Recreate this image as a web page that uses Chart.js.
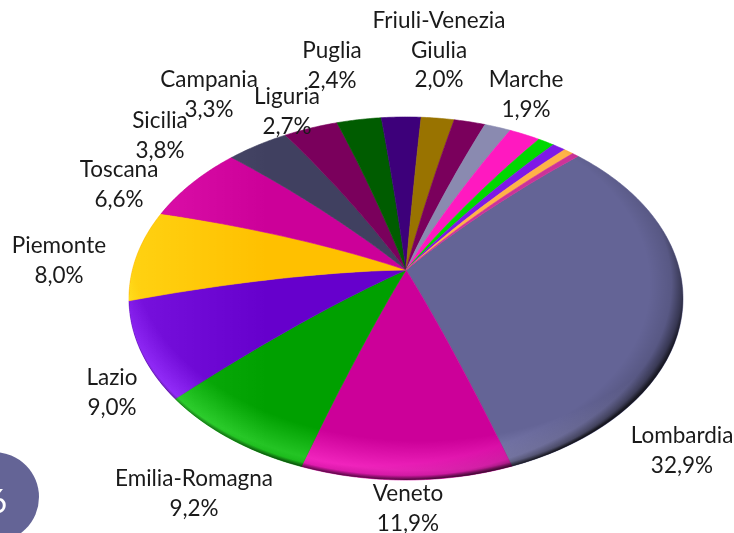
<!DOCTYPE html>
<html lang="it">
<head>
<meta charset="utf-8">
<title>Ripartizione per regione</title>
<style>html,body{margin:0;padding:0;background:#fff;overflow:hidden}canvas{display:block}</style>
<script src="https://cdn.jsdelivr.net/npm/chart.js@4"></script>
</head>
<body>
<canvas id="c" width="734" height="533"></canvas>
<script>
// ---- data ----
const regions = ["Lombardia","Veneto","Emilia-Romagna","Lazio","Piemonte","Toscana","Sicilia","Campania","Liguria","Puglia","Friuli-Venezia Giulia","Marche","","","","","",""];
const shares  = [32.9,11.9,9.2,9.0,8.0,6.6,3.8,3.3,2.7,2.4,2.0,1.9,1.6,1.9,1.0,0.8,0.6,0.4];
const labelled = 12;
const sliceColors = ["#646496","#cc0099","#00a000","#6600cc","#ffc000","#cc0099","#404060","#7a005c","#005c00","#3d007a","#997300","#7a005c","#8a8ab0","#ff19c0","#00d800","#7f19e6","#ffb347","#cc3399"];
const pageNumber = "6";

// ---- layout of texts (wrapped lines, centre x, first-line centre y) ----
const labelLines = [["Lombardia"],["Veneto"],["Emilia-Romagna"],["Lazio"],["Piemonte"],["Toscana"],["Sicilia"],["Campania"],["Liguria"],["Puglia"],["Friuli-Venezia","Giulia"],["Marche"]];
const labelAt = [[682,436],[408,494],[194,479],[112,378],[59,246],[119,170],[160,121],[209,80],[287,97],[332,51],[439,21],[526,80]];
const lineStep = 29.5;
const labelFont = '22.5px Lato, "Open Sans", sans-serif';

// ---- domed-disc projection applied to the arcs the library computed ----
const tilt = {sx:277/200, sy:181.5/200, lift:28.5/200, profile:1.7, warp:-2.5*Math.PI/180};
function project(el, ang, r){
  const R = el.outerRadius;
  const th = ang + Math.PI/2;
  const a = th + tilt.warp*Math.sin(th) - Math.PI/2;
  return [
    el.x + R*tilt.sx*r*Math.cos(a),
    el.y + R*tilt.sy*r*Math.sin(a) + R*tilt.lift*Math.pow(r,tilt.profile)
  ];
}
function tracePie(ctx, el, a0, a1){
  ctx.beginPath();
  ctx.moveTo(el.x, el.y);
  for(let i=1;i<=24;i++){ const p = project(el,a0,i/24); ctx.lineTo(p[0],p[1]); }
  const n = Math.max(2, Math.ceil((a1-a0)/0.01));
  for(let i=1;i<=n;i++){ const p = project(el,a0+(a1-a0)*i/n,1); ctx.lineTo(p[0],p[1]); }
  for(let i=23;i>=1;i--){ const p = project(el,a1,i/24); ctx.lineTo(p[0],p[1]); }
  ctx.closePath();
}
Chart.ArcElement.prototype.draw = function(ctx){
  const o = this.options;
  ctx.save();
  tracePie(ctx, this, this.startAngle, this.endAngle);
  ctx.fillStyle = o.backgroundColor;
  ctx.strokeStyle = o.backgroundColor;
  ctx.lineWidth = 0.6;
  ctx.fill();
  ctx.stroke();
  ctx.restore();
};

const dome = {
  id:'dome',
  afterDatasetsDraw(chart){
    const ctx = chart.ctx, el = chart.getDatasetMeta(0).data[0];
    if(!el) return;
    const R = el.outerRadius, rx = R*tilt.sx, ry = R*tilt.sy, cx = el.x, cy = el.y + R*tilt.lift;
    ctx.save();
    ctx.beginPath();
    ctx.ellipse(cx,cy,rx,ry,0,0,Math.PI*2);
    ctx.clip();
    ctx.translate(cx,cy);
    ctx.scale(rx,ry);
    // additive light: keeps the hues saturated
    ctx.globalCompositeOperation = 'lighter';
    let g = ctx.createLinearGradient(-1,0,1,0);
    g.addColorStop(0,'rgba(255,255,255,0.07)');
    g.addColorStop(0.25,'rgba(255,255,255,0)');
    g.addColorStop(1,'rgba(255,255,255,0)');
    ctx.fillStyle = g; ctx.fillRect(-1.1,-1.1,2.2,2.2);
    g = ctx.createRadialGradient(0.05,-0.25,0,0.05,-0.25,1.26);
    g.addColorStop(0.82,'rgba(255,255,255,0)');
    g.addColorStop(0.95,'rgba(255,255,255,0.14)');
    g.addColorStop(1,'rgba(255,255,255,0.08)');
    ctx.fillStyle = g; ctx.fillRect(-1.1,-1.1,2.2,2.2);
    ctx.globalCompositeOperation = 'source-over';
    // broad dark rim on the right and lower right
    g = ctx.createRadialGradient(-0.12,-0.08,0,-0.12,-0.08,1.135);
    g.addColorStop(0.88,'rgba(0,0,0,0)');
    g.addColorStop(0.95,'rgba(0,0,0,0.12)');
    g.addColorStop(0.985,'rgba(0,0,0,0.45)');
    g.addColorStop(1,'rgba(0,0,0,0.75)');
    ctx.fillStyle = g; ctx.fillRect(-1.1,-1.1,2.2,2.2);
    // thin dark edge along the bottom
    g = ctx.createRadialGradient(0,-0.03,0,0,-0.03,1.03);
    g.addColorStop(0.975,'rgba(0,0,0,0)');
    g.addColorStop(1,'rgba(0,0,0,0.6)');
    ctx.fillStyle = g; ctx.fillRect(-1.1,-1.1,2.2,2.2);
    ctx.restore();
  }
};

const texts = {
  id:'texts',
  afterDraw(chart){
    const ctx = chart.ctx;
    ctx.save();
    ctx.beginPath(); ctx.arc(-6,497,45,0,Math.PI*2);
    ctx.fillStyle = '#646496'; ctx.fill();
    ctx.fillStyle = '#ffffff';
    ctx.font = '32px Lato, sans-serif';
    ctx.textAlign = 'right'; ctx.textBaseline = 'middle';
    ctx.fillText(pageNumber, 7, 503);
    ctx.fillStyle = '#1a1a1a';
    ctx.font = labelFont;
    ctx.textAlign = 'center';
    for(let i=0;i<labelled;i++){
      const lines = labelLines[i].concat(shares[i].toFixed(1).replace('.',',')+'%');
      lines.forEach((s,j)=>ctx.fillText(s, labelAt[i][0], labelAt[i][1]+j*lineStep));
    }
    ctx.restore();
  }
};

new Chart(document.getElementById('c'),{
  type:'pie',
  data:{labels:regions,datasets:[{data:shares,backgroundColor:sliceColors,borderWidth:0}]},
  options:{
    responsive:false,animation:false,rotation:40,
    layout:{padding:{left:206,right:128,top:70,bottom:63}},
    plugins:{legend:{display:false},tooltip:{enabled:false}}
  },
  plugins:[dome,texts]
});
</script>
</body>
</html>
